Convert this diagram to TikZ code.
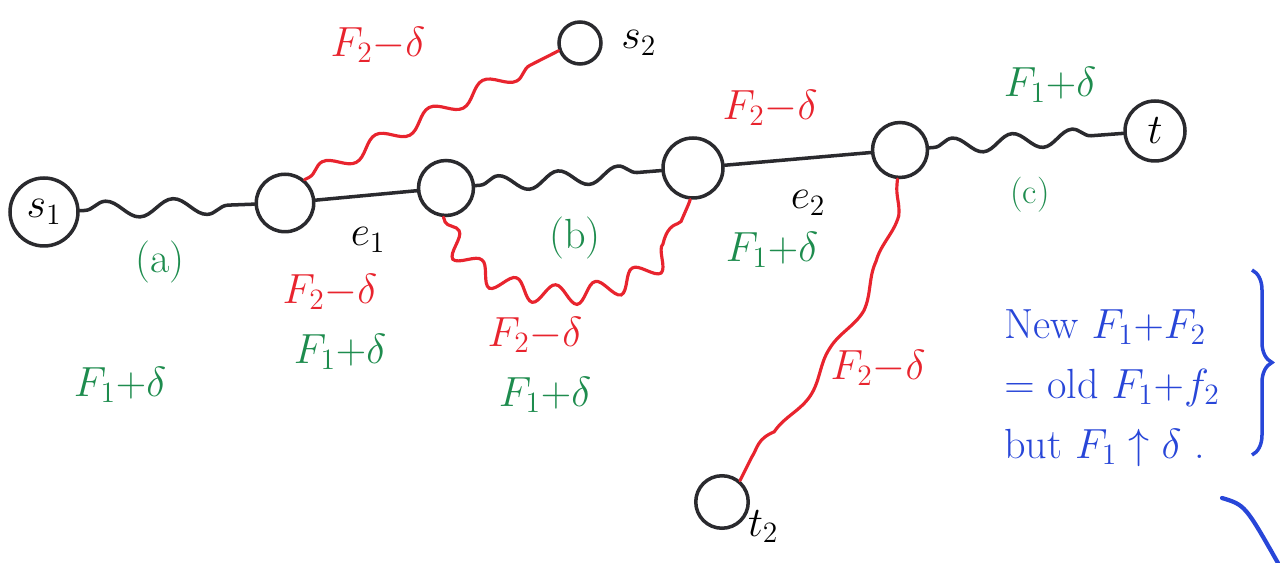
\RequirePackage{fix-cm}
\documentclass[tikz,border=0pt]{standalone}
\usepackage{amsmath,amssymb}
\usetikzlibrary{positioning,decorations.pathmorphing,decorations.pathreplacing}
\definecolor{cred}{HTML}{E8242E}
\definecolor{cgreen}{HTML}{1E8C4E}
\definecolor{cblue}{HTML}{2846D8}
\definecolor{cink}{HTML}{2A2A2E}

\begin{document}
\begin{tikzpicture}[
  x=0.02cm,y=-0.02cm,
  font=\fontsize{24}{30}\selectfont,
  vert/.style={circle,draw=cink,line width=2pt,minimum size=1.15cm,inner sep=1pt},
  blk/.style={draw=cink,line width=2pt,line cap=round},
  redw/.style={draw=cred,line width=1.8pt,line cap=round},
  wavy/.style={decorate,decoration={snake,amplitude=1.6mm,segment length=1.2cm,
               pre length=1mm,post length=1mm}},
  gl/.style={text=cgreen},
  rl/.style={text=cred}]
  \useasboundingbox (0,0) rectangle (1288,563);
  % vertices of the path
  \node[vert,minimum size=1.36cm] (s1) at (44,212) {$s_1$};
  \node[vert] (n1) at (285,203) {};
  \node[vert,minimum size=1.1cm] (n2) at (446,188) {};
  \node[vert,minimum size=1.2cm] (n3) at (693,168) {};
  \node[vert,minimum size=1.1cm] (n4) at (900,150) {};
  \node[vert,minimum size=1.2cm] (t) at (1155,131) {$t$};
  \node[vert,minimum size=0.84cm] (s2) at (580,43) {};
  \node[right=0.25cm of s2] (s2lab) {$s_2$};
  \node[vert,minimum size=1.05cm] (t2) at (722,502) {};
  \node[below right=-0.35cm and 0cm of t2] (t2lab) {$t_2$};
  % flow 1 along the path
  \draw[blk,wavy,decoration={segment length=1.35cm,amplitude=1.7mm}] (s1) -- (n1);
  \draw[blk] (n1) -- (n2);
  \draw[blk,wavy] (n2) -- (n3);
  \draw[blk] (n3) -- (n4);
  \draw[blk,wavy] (n4) -- (t);
  % flow 2 detours
  \draw[redw,wavy] (n1.50) -- (s2.200);
  \draw[redw,wavy,decoration={amplitude=2mm,segment length=0.85cm}]
    (n2.265) .. controls (470,305) and (650,315) .. (n3.265);
  \draw[redw,decorate,decoration={snake,amplitude=1mm,segment length=2cm,
        pre length=1mm,post length=1mm}] (n4.265) .. controls (890,280) and (790,380) .. (t2.50);
  % edge labels
  \node[gl] (la) at (160,262) {(a)};
  \node (le1) at (368,240) {$e_1$};
  \node[gl] (lb) at (575,238) {(b)};
  \node (le2) at (808,203) {$e_2$};
  \node[gl,font=\fontsize{20}{24}\selectfont] (lc) at (1030,195) {(c)};
  % flow values
  \node[rl] (f1) at (378,45) {$F_2{-}\delta$};
  \node[rl] (f2) at (770,108) {$F_2{-}\delta$};
  \node[gl] (f3) at (1050,85) {$F_1{+}\delta$};
  \node[gl] (f4) at (772,250) {$F_1{+}\delta$};
  \node[rl] (f5) at (330,292) {$F_2{-}\delta$};
  \node[gl] (f6) at (340,352) {$F_1{+}\delta$};
  \node[gl] (f7) at (120,385) {$F_1{+}\delta$};
  \node[rl] (f8) at (535,335) {$F_2{-}\delta$};
  \node[gl] (f9) at (545,395) {$F_1{+}\delta$};
  \node[rl] (f10) at (878,368) {$F_2{-}\delta$};
  % note
  \node[text=cblue,align=left,font=\fontsize{24}{34}\selectfont] (note) at (1112,388)
    {New $F_1{+}F_2$\\$=$ old $F_1{+}f_2$\\but $F_1\uparrow\delta$ .};
  \coordinate (bt) at (1252,270);
  \coordinate (bb) at (1252,455);
  \draw[cblue,line width=2pt,decorate,decoration={brace,amplitude=4mm}] (bt) -- (bb);
  \coordinate (bs) at (1222,498);
  \coordinate (be) at (1278,563);
  \draw[cblue,line width=2.4pt,line cap=round] (bs) .. controls (1245,505) .. (be);
\end{tikzpicture}
\end{document}
